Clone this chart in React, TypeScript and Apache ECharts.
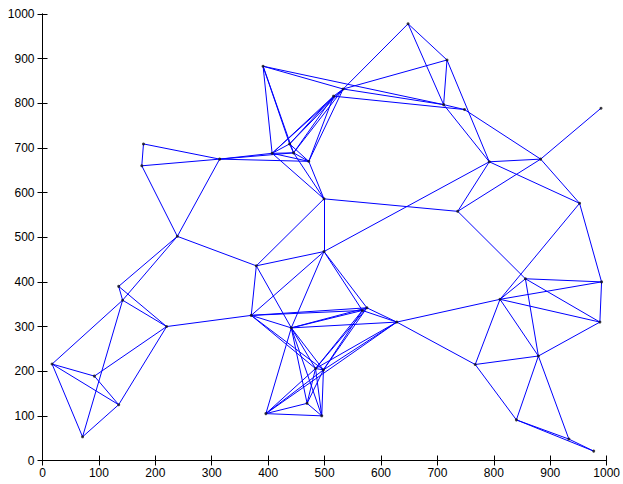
import React, { useEffect, useRef } from "react";
import * as echarts from "echarts";

// Node coordinates (1-based numbering in edge list)
const nodeX = [
  17, 71, 92, 135, 220, 135, 142, 179, 176, 239,
  314, 391, 407, 438, 472, 445, 516, 533, 499, 379,
  370, 441, 499, 567, 575, 628, 484, 498, 469, 396,
  495, 648, 717, 711, 748, 792, 883, 736, 952, 990,
  856, 991, 988, 811, 879, 767, 840, 933, 977,
];
const nodeY = [
  216, 53, 189, 125, 300, 390, 359, 709, 660, 502,
  675, 883, 688, 709, 670, 689, 816, 832, 586, 436,
  325, 297, 468, 336, 342, 310, 206, 203, 128, 105,
  100, 978, 897, 797, 786, 669, 675, 558, 576, 789,
  407, 400, 310, 361, 234, 215, 91, 48, 21,
];

// Edges as "from-to" pairs of 1-based node numbers
const edgeList = [
  "1-7", "1-3", "1-4", "1-2", "7-5", "6-5", "7-2", "3-5", "3-4", "4-2",
  "4-5", "6-7", "6-10", "7-10", "8-9", "8-11", "9-11", "9-10", "10-11", "10-20",
  "5-21", "11-13", "11-16", "11-15", "12-13", "12-14", "12-16", "12-18", "12-34",
  "13-14", "13-16", "13-15", "14-16", "14-15", "16-15",
  "13-17", "13-18", "14-17", "14-18", "16-17", "16-18", "15-17", "15-18",
  "13-19", "16-19", "15-19", "17-18",
  "18-32", "18-33", "18-34", "17-35",
  "32-33", "32-34", "33-34", "33-36", "34-35", "34-36", "35-37", "36-37",
  "36-38", "36-39", "37-39", "37-38", "37-40",
  "19-20", "19-23", "19-38", "20-21", "20-22", "20-23",
  "21-22", "21-23", "21-24", "21-25", "21-27", "21-28",
  "22-23", "22-24", "22-25", "22-26", "22-27", "22-28", "22-29", "22-30", "22-31",
  "23-24", "23-25", "23-36", "24-25", "24-26", "25-26",
  "24-27", "24-28", "25-27", "25-28", "26-27", "26-28", "26-44", "26-46",
  "27-28", "27-29", "28-29", "27-31", "28-31", "27-30", "28-30",
  "29-30", "29-31", "30-31", "30-26",
  "38-41", "39-42", "39-44", "41-42", "41-43", "41-44", "41-45", "42-43",
  "42-44", "43-44", "43-45", "44-45", "44-46", "45-46", "45-47", "45-48",
  "46-47", "47-48", "47-49", "48-49",
];

const axisTicks = [0, 100, 200, 300, 400, 500, 600, 700, 800, 900, 1000];

export default function App() {
  const ref = useRef<HTMLDivElement>(null);
  useEffect(() => {
    if (!ref.current) return;
    const chart = echarts.init(ref.current, undefined, { renderer: "svg" });
    const pts = nodeX.map((x, i) => [x, nodeY[i]]);
    const lineData = edgeList.map((e) => {
      const [a, b] = e.split("-").map((s) => parseInt(s, 10) - 1);
      return { coords: [pts[a], pts[b]] };
    });
    const font = "'Liberation Sans', Arial, Helvetica, sans-serif";
    const fmt = (v: number) => String(v);
    const baseAxis = {
      type: "value" as const,
      min: axisTicks[0],
      max: axisTicks[axisTicks.length - 1],
      interval: 100,
      splitLine: { show: false },
      axisLine: { show: true, lineStyle: { color: "#000", width: 1 } },
      axisTick: { show: true, inside: true, length: 5, lineStyle: { color: "#000" } },
    };
    chart.setOption({
      animation: false,
      backgroundColor: "#fff",
      grid: { left: 42.5, right: 16, top: 14, bottom: 23.5, containLabel: false },
      xAxis: [
        {
          ...baseAxis,
          position: "bottom",
          axisLabel: { show: true, color: "#000", fontSize: 12, fontFamily: font, margin: 6, formatter: fmt },
        },
        { ...baseAxis, position: "top", axisLabel: { show: false } },
      ],
      yAxis: [
        {
          ...baseAxis,
          position: "left",
          axisLabel: { show: true, color: "#000", fontSize: 12, fontFamily: font, margin: 8, formatter: fmt },
        },
        { ...baseAxis, position: "right", axisLabel: { show: false } },
      ],
      series: [
        {
          type: "lines",
          coordinateSystem: "cartesian2d",
          xAxisIndex: 0,
          yAxisIndex: 0,
          silent: true,
          lineStyle: { color: "#0000ff", width: 1, opacity: 1 },
          data: lineData,
        },
        {
          type: "scatter",
          xAxisIndex: 0,
          yAxisIndex: 0,
          silent: true,
          symbol: "circle",
          symbolSize: 3,
          itemStyle: { color: "#111" },
          data: pts,
        },
      ],
    });
    return () => chart.dispose();
  }, []);
  return (
    <div
      ref={ref}
      style={{ position: "fixed", left: 0, top: 0, width: 623, height: 484, background: "#fff" }}
    />
  );
}
